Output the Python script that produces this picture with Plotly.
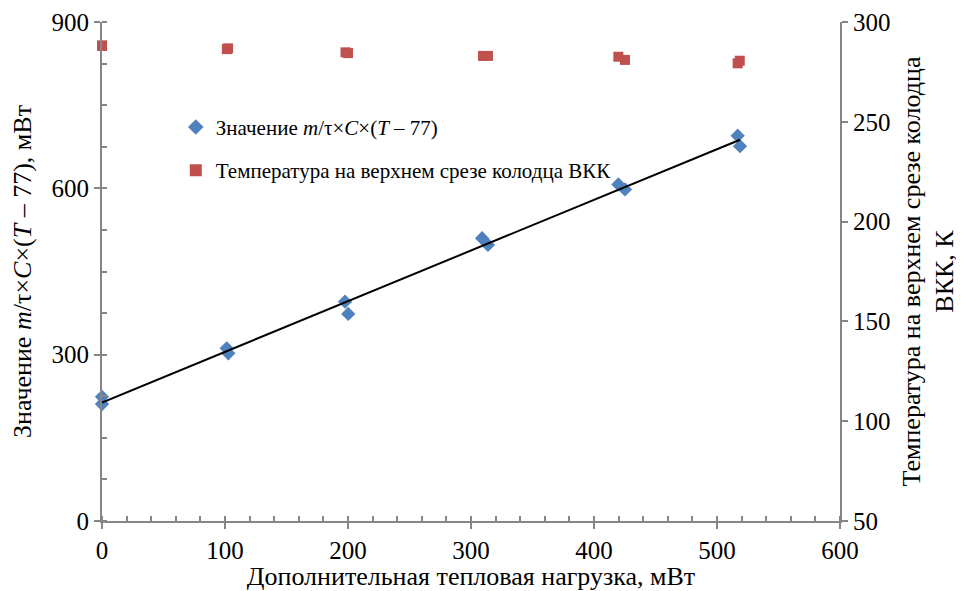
import numpy as np
import plotly.graph_objects as go

# Blue diamonds: value m/τ×C×(T−77), mW
load_blue = [0, 0, 101.4, 102.7, 197.6, 200.2, 309, 313.8, 419.8, 425.2, 516.8, 518.7]
value_blue = [224, 211, 311.5, 302.5, 395.6, 373.4, 510, 498, 607, 598, 695, 676]

# Red squares: temperature at upper cut of well, K
load_red = [0, 0, 101.5, 102.5, 198, 200, 309.8, 313.8, 419.8, 425.2, 516.8, 518.5]
temp_red = [288.3, 288.0, 286.4, 286.8, 284.8, 284.4, 283.0, 283.0, 282.6, 281.0, 279.3, 280.6]

x_ticks = [0, 100, 200, 300, 400, 500, 600]
y_ticks = [0, 300, 600, 900]
y2_ticks = [50, 100, 150, 200, 250, 300]

BLUE = "#4F81BD"
RED = "#C0504D"
AXIS = "#868686"
FONT = "'Liberation Serif', 'Times New Roman', Times, serif"

# Linear trend of the blue series
k, b = np.polyfit(load_blue, value_blue, 1)
tx = np.array([min(load_blue), max(load_blue)])
ty = k * tx + b

fig = go.Figure()
fig.add_trace(go.Scatter(
    x=load_blue, y=value_blue, mode="markers",
    marker=dict(symbol="diamond", size=11, color=BLUE),
    name="Значение <i>m</i>/τ×<i>C</i>×(<i>T</i> – 77)",
    legendgroup="a", cliponaxis=False))
fig.add_trace(go.Scatter(
    x=tx, y=ty, mode="lines", line=dict(color="black", width=2),
    showlegend=False, hoverinfo="skip"))
fig.add_trace(go.Scatter(
    x=load_red, y=temp_red, mode="markers", yaxis="y2",
    marker=dict(symbol="square", size=10, color=RED),
    name="Температура на верхнем срезе колодца ВКК",
    legendgroup="b", cliponaxis=False))

fig.update_layout(
    width=956, height=583,
    margin=dict(l=94, r=124, t=14, b=70),
    paper_bgcolor="white", plot_bgcolor="white",
    font=dict(family=FONT, size=25, color="black"),
    showlegend=True,
    legend=dict(x=0.1, y=0.83, xanchor="left", yanchor="top",
                bgcolor="rgba(0,0,0,0)", font=dict(size=21, family=FONT),
                tracegroupgap=13, itemsizing="constant"),
    xaxis=dict(
        range=[0, 600], tickvals=x_ticks, showgrid=False, zeroline=False,
        showline=True, linecolor=AXIS, linewidth=2, automargin=False,
        ticks="outside", ticklen=6, tickcolor=AXIS, tickwidth=1.5,
        tickfont=dict(size=25, family=FONT),
        minor=dict(dtick=20, ticks="inside", ticklen=5, tickcolor=AXIS, showgrid=False),
        title=dict(text="Дополнительная тепловая нагрузка, мВт", font=dict(size=26, family=FONT), standoff=2),
    ),
    yaxis=dict(
        range=[0, 900], tickvals=y_ticks, showgrid=False, zeroline=False,
        showline=True, linecolor=AXIS, linewidth=2, automargin=False,
        ticks="outside", ticklen=6, tickcolor=AXIS, tickwidth=1.5,
        tickfont=dict(size=25, family=FONT),
        minor=dict(dtick=75, ticks="inside", ticklen=5, tickcolor=AXIS, showgrid=False),
        title=dict(text="Значение <i>m</i>/τ×<i>C</i>×(<i>T</i> – 77), мВт", font=dict(size=26, family=FONT), standoff=13),
    ),
    yaxis2=dict(
        range=[50, 300], tickvals=y2_ticks, overlaying="y", side="right",
        showgrid=False, zeroline=False, automargin=False,
        showline=True, linecolor=AXIS, linewidth=2,
        ticks="outside", ticklen=6, tickcolor=AXIS, tickwidth=1.5,
        tickfont=dict(size=25, family=FONT),
        title=dict(text="Температура на верхнем срезе колодца<br>ВКК, К", font=dict(size=26, family=FONT), standoff=12),
    ),
)

fig.write_html("out.html")
